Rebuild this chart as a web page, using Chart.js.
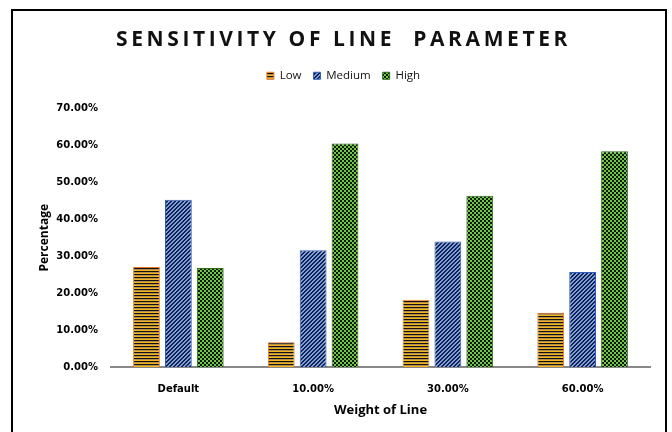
<!DOCTYPE html>
<html>
<head>
<meta charset="utf-8">
<script src="https://cdn.jsdelivr.net/npm/chart.js@4.4.0/dist/chart.umd.min.js"></script>
<style>
  html, body { margin: 0; padding: 0; background: #fff; }
  #wrap { width: 672px; height: 432px; }
</style>
</head>
<body>
<div id="wrap"><canvas id="sensChart" width="672" height="432"></canvas></div>
<script>
const categories = ['Default', '10.00%', '30.00%', '60.00%'];
const lowValues = [0.271, 0.067, 0.182, 0.147];
const mediumValues = [0.453, 0.316, 0.340, 0.257];
const highValues = [0.268, 0.605, 0.464, 0.584];
const yTicks = [0, 0.1, 0.2, 0.3, 0.4, 0.5, 0.6, 0.7];

// build little fill patterns like the excel ones
function makePattern(w, h, paint) {
  const c = document.createElement('canvas');
  c.width = w; c.height = h;
  const g = c.getContext('2d');
  paint(g);
  return document.getElementById('sensChart').getContext('2d').createPattern(c, 'repeat');
}

const lowPattern = makePattern(1, 3, g => {
  g.fillStyle = '#f4b41e'; g.fillRect(0, 0, 1, 1);
  g.fillStyle = '#111'; g.fillRect(0, 1, 1, 1);
  g.fillStyle = '#b0904c'; g.fillRect(0, 2, 1, 1);
});

const mediumPattern = makePattern(4, 4, g => {
  g.fillStyle = '#829dcc'; g.fillRect(0, 0, 4, 4);
  g.fillStyle = '#0e2460';
  for (let i = 0; i < 4; i++) {
    g.fillRect((3 - i + 4) % 4, i, 1, 1);
    g.fillRect((4 - i + 4) % 4, i, 1, 1);
  }
});

const highPattern = makePattern(4, 4, g => {
  g.fillStyle = '#74c64a'; g.fillRect(0, 0, 4, 4);
  g.fillStyle = '#0c1a08';
  g.fillRect(0, 0, 2, 2);
  g.fillRect(2, 2, 2, 2);
});

const framePlugin = {
  id: 'frame',
  afterInit(chart) {
    // push the plot down a bit under the legend
    const lg = chart.legend;
    const fit = lg.fit;
    lg.fit = function () { fit.call(this); this.height += 17; };
    // spaced out title like the original
    const tb = chart.titleBlock;
    const draw = tb.draw;
    tb.draw = function () {
      this.ctx.save();
      this.ctx.letterSpacing = '3.6px';
      draw.call(this);
      this.ctx.restore();
    };
  },
  beforeDraw(chart) {
    const ctx = chart.ctx;
    ctx.save();
    ctx.fillStyle = '#fff';
    ctx.fillRect(0, 0, chart.width, chart.height);
    ctx.strokeStyle = '#000';
    ctx.lineWidth = 2;
    ctx.beginPath();
    ctx.moveTo(12, 432);
    ctx.lineTo(12, 10);
    ctx.lineTo(666, 10);
    ctx.lineTo(666, 432);
    ctx.stroke();
    ctx.restore();
  }
};

new Chart(document.getElementById('sensChart'), {
  type: 'bar',
  data: {
    labels: categories,
    datasets: [
      { label: 'Low', data: lowValues, backgroundColor: lowPattern, borderColor: '#e8762a', borderWidth: 1 },
      { label: 'Medium', data: mediumValues, backgroundColor: mediumPattern, borderColor: '#2f5bb8', borderWidth: 1 },
      { label: 'High', data: highValues, backgroundColor: highPattern, borderColor: '#2d6b18', borderWidth: 1 }
    ]
  },
  options: {
    responsive: false,
    animation: false,
    datasets: {
      bar: { categoryPercentage: 0.71, barPercentage: 0.84 }
    },
    layout: { padding: { left: 37, right: 22, top: 0, bottom: 14 } },
    plugins: {
      title: {
        display: true,
        text: 'SENSITIVITY OF LINE  PARAMETER',
        color: '#111',
        font: { family: 'Open Sans', size: 21, weight: 'bold', lineHeight: 1 },
        padding: { top: 30, bottom: 7 }
      },
      legend: {
        position: 'top',
        labels: {
          boxWidth: 7,
          boxHeight: 7,
          padding: 12,
          color: '#111',
          font: { family: 'Open Sans', size: 11.5 }
        }
      },
      tooltip: { enabled: false }
    },
    scales: {
      x: {
        grid: { display: false },
        border: { color: '#888', width: 2 },
        ticks: { color: '#000', padding: 8, font: { family: 'DejaVu Sans', size: 10, weight: 'bold' } },
        title: {
          display: true,
          text: 'Weight of Line',
          color: '#000',
          font: { family: 'Open Sans', size: 13, weight: 'bold' },
          padding: { top: 2, bottom: 0 }
        },
        afterFit(scale) { scale.height = 51; }
      },
      y: {
        min: 0,
        max: 0.7,
        grid: { display: false },
        border: { display: false },
        afterBuildTicks(scale) { scale.ticks = yTicks.map(v => ({ value: v })); },
        ticks: {
          color: '#000',
          padding: 5,
          font: { family: 'DejaVu Sans', size: 10, weight: 'bold' },
          callback: v => (v * 100).toFixed(2) + '%'
        },
        title: {
          display: true,
          text: 'Percentage',
          color: '#000',
          font: { family: 'Open Sans', size: 12, weight: 'bold' },
          padding: { top: 0, bottom: 2 }
        },
        afterFit(scale) { scale.width = 74; }
      }
    }
  },
  plugins: [framePlugin]
});
</script>
</body>
</html>
